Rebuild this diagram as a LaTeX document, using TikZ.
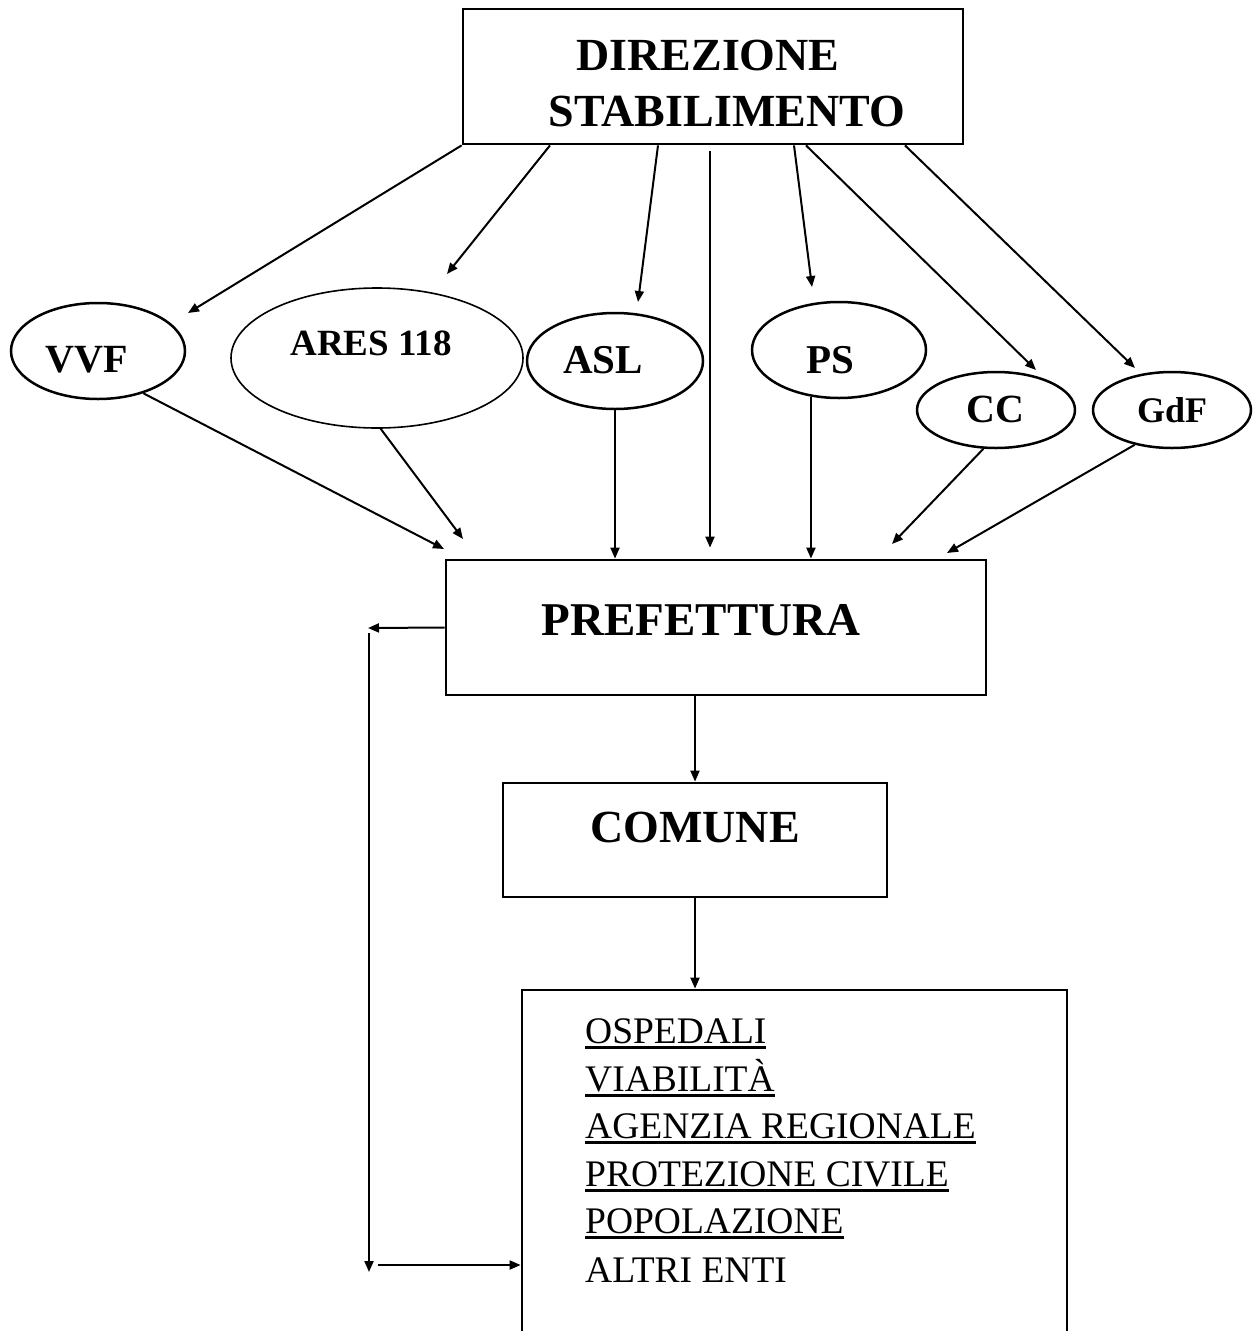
\documentclass[tikz,border=0pt]{standalone}
\usepackage{fontspec}
\setmainfont{Liberation Serif}
\usetikzlibrary{arrows.meta,shapes.geometric}
\newcommand\ulx[1]{\setbox0\hbox{#1}\rlap{\rule[-5.5pt]{\wd0}{2.5pt}}\box0}
\newcommand\fsz[1]{\fontsize{#1}{#1}\selectfont}
\begin{document}
\begin{tikzpicture}[x=1pt,y=-1pt,
  box/.style={draw,line width=2.8pt,inner sep=0pt,rectangle},
  ell/.style={draw,line width=2.5pt,ellipse,inner sep=0pt},
  arr/.style={line width=2pt,-{Triangle[length=11pt,width=9pt]}},
  lbl/.style={anchor=base,inner sep=0pt},
  itm/.style={anchor=base west,inner sep=0pt,font=\fsz{37.5}}
]
\useasboundingbox (0,0) rectangle (1253,1331);

% boxes
\node[box,minimum width=500pt,minimum height=135pt] (dir) at (713,76.5) {};
\node[lbl,font=\bfseries\fsz{46}] (dirA) at (708,70) {DIREZIONE};
\node[lbl,font=\bfseries\fsz{46}] (dirB) at (727,126) {STABILIMENTO};

\node[box,minimum width=540pt,minimum height=135pt] (pref) at (716,627.5) {};
\node[lbl,font=\bfseries\fsz{47}] (prefT) at (701,635) {PREFETTURA};

\node[box,minimum width=384pt,minimum height=114pt] (com) at (695,840) {};
\node[lbl,font=\bfseries\fsz{46}] (comT) at (695,842) {COMUNE};

\node[box,minimum width=545pt,minimum height=380pt] (lst) at (794.5,1180) {};
\node[itm] (l1) at (585,1043) {\ulx{OSPEDALI}};
\node[itm] (l2) at (585,1091) {\ulx{VIABILITÀ}};
\node[itm] (l3) at (585,1138) {\ulx{AGENZIA REGIONALE}};
\node[itm] (l4) at (585,1186) {\ulx{PROTEZIONE CIVILE}};
\node[itm] (l5) at (585,1233) {\ulx{POPOLAZIONE}};
\node[itm] (l6) at (585,1282) {ALTRI ENTI};

% ellipses
\node[ell,minimum width=174pt,minimum height=96pt] (vvf) at (98,351) {};
\node[lbl,font=\bfseries\fsz{40}] (vvfT) at (87,372) {VVF};
\node[ell,line width=1.6pt,minimum width=292pt,minimum height=140pt] (ares) at (377,358) {};
\node[lbl,font=\bfseries\fsz{37}] (aresT) at (371,355) {ARES 118};
\node[ell,minimum width=176pt,minimum height=96pt] (asl) at (615,361) {};
\node[lbl,font=\bfseries\fsz{41}] (aslT) at (603,373) {ASL};
\node[ell,minimum width=174pt,minimum height=96pt] (ps) at (839,350) {};
\node[lbl,font=\bfseries\fsz{41}] (psT) at (830,373) {PS};
\node[ell,minimum width=158pt,minimum height=76pt] (cc) at (996,410) {};
\node[lbl,font=\bfseries\fsz{40}] (ccT) at (995,422) {CC};
\node[ell,minimum width=158pt,minimum height=76pt] (gdf) at (1172,410) {};
\node[lbl,font=\bfseries\fsz{36}] (gdfT) at (1172,422) {GdF};

% free ends
\coordinate (tvvf) at (188,313);
\coordinate (tares) at (447,274);
\coordinate (tasl) at (638,302);
\coordinate (tps) at (812,287);
\coordinate (tcc) at (1036,370);
\coordinate (tgdf) at (1135,368);
\coordinate (bvvf) at (444,549);
\coordinate (bares) at (463,539);
\coordinate (bcc) at (892,544);
\coordinate (bgdf) at (947,553);
\coordinate (lt) at (368,628);
\coordinate (vtop) at (369,633);
\coordinate (vbot) at (369,1272);
\coordinate (hst) at (378,1265);

% top connectors
\draw[arr] (dir.south west) -- (tvvf);
\draw[arr] ([xshift=-163pt]dir.south) -- (tares);
\draw[arr] ([xshift=-55pt]dir.south) -- (tasl);
\draw[arr] ([xshift=81pt]dir.south) -- (tps);
\draw[arr] ([xshift=93pt]dir.south) -- (tcc);
\draw[arr] ([xshift=192pt]dir.south) -- (tgdf);
\draw[arr] ([xshift=-3pt,yshift=-6pt]dir.south) -- ([xshift=-6pt,yshift=11pt]pref.north);

% bottom connectors
\draw[arr] (vvf.-43) -- (bvvf);
\draw[arr] (ares.-87) -- (bares);
\draw[arr] (asl.south) -- (asl.south |- pref.north);
\draw[arr] (ps.-121) -- (ps.-121 |- pref.north);
\draw[arr] (cc.-108) -- (bcc);
\draw[arr] (gdf.-137) -- (bgdf);

\draw[arr] (com.north |- pref.south) -- (com.north);
\draw[arr] (com.south) -- (com.south |- lst.north);

% left loop
\draw[arr] (pref.west) -- (lt);
\draw[arr] (vtop) -- (vbot);
\draw[arr] (hst) -- (hst -| lst.west);
\end{tikzpicture}
\end{document}
